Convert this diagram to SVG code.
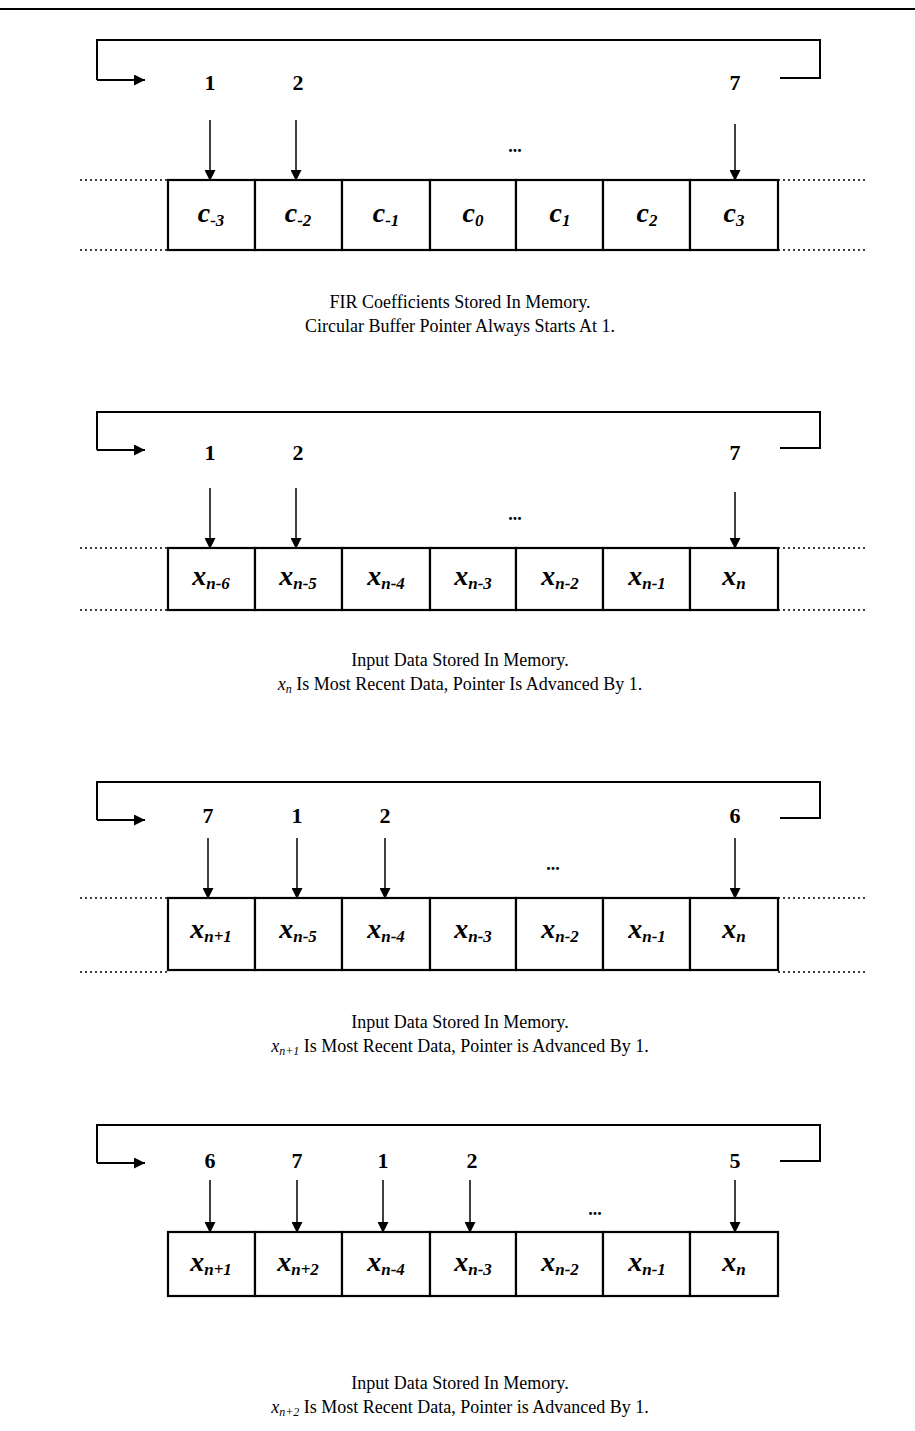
<svg xmlns="http://www.w3.org/2000/svg" width="915" height="1431" viewBox="0 0 915 1431">
<defs>
<marker id="ah" viewBox="0 0 10 10" refX="10" refY="5" markerWidth="11" markerHeight="11" markerUnits="userSpaceOnUse" orient="auto">
<path d="M0,0 L10,5 L0,10 z" fill="#000"/>
</marker>
<style>
.ln{stroke:#000;stroke-width:2;fill:none}
.ptr{stroke:#000;stroke-width:1.5;fill:none}
.dot{stroke:#000;stroke-width:1.5;stroke-dasharray:2 3;fill:none}
.cell{stroke:#000;stroke-width:2.2;fill:#fff}
.num{font-family:"Liberation Serif",serif;font-weight:bold;font-size:22px;text-anchor:middle}
.lbl{font-family:"Liberation Serif",serif;font-weight:bold;font-style:italic;font-size:28px;text-anchor:middle}
.sub{font-size:17px}
.cap{font-family:"Liberation Serif",serif;font-size:18px;text-anchor:middle}
.ell{font-family:"Liberation Serif",serif;font-weight:bold;font-size:18px;text-anchor:middle}
</style>
</defs>
<rect width="915" height="1431" fill="#fff"/>
<line x1="0" y1="9" x2="915" y2="9" stroke="#000" stroke-width="2"/>

<g id="connectors">
<path class="ln" d="M97,80 V40 H820 V78 H780"/>
<line class="ln" x1="97" y1="80" x2="145" y2="80" marker-end="url(#ah)"/>
<line class="ptr" x1="210" y1="120" x2="210" y2="181" marker-end="url(#ah)"/>
<line class="ptr" x1="296" y1="120" x2="296" y2="181" marker-end="url(#ah)"/>
<line class="ptr" x1="735" y1="124" x2="735" y2="181" marker-end="url(#ah)"/>
<path class="ln" d="M97,450 V412 H820 V448 H780"/>
<line class="ln" x1="97" y1="450" x2="145" y2="450" marker-end="url(#ah)"/>
<line class="ptr" x1="210" y1="488" x2="210" y2="549" marker-end="url(#ah)"/>
<line class="ptr" x1="296" y1="488" x2="296" y2="549" marker-end="url(#ah)"/>
<line class="ptr" x1="735" y1="492" x2="735" y2="549" marker-end="url(#ah)"/>
<path class="ln" d="M97,820 V782 H820 V818 H780"/>
<line class="ln" x1="97" y1="820" x2="145" y2="820" marker-end="url(#ah)"/>
<line class="ptr" x1="208" y1="838" x2="208" y2="899" marker-end="url(#ah)"/>
<line class="ptr" x1="297" y1="838" x2="297" y2="899" marker-end="url(#ah)"/>
<line class="ptr" x1="385" y1="838" x2="385" y2="899" marker-end="url(#ah)"/>
<line class="ptr" x1="735" y1="838" x2="735" y2="899" marker-end="url(#ah)"/>
<path class="ln" d="M97,1163 V1125 H820 V1161 H780"/>
<line class="ln" x1="97" y1="1163" x2="145" y2="1163" marker-end="url(#ah)"/>
<line class="ptr" x1="210" y1="1180" x2="210" y2="1233" marker-end="url(#ah)"/>
<line class="ptr" x1="297" y1="1180" x2="297" y2="1233" marker-end="url(#ah)"/>
<line class="ptr" x1="383" y1="1180" x2="383" y2="1233" marker-end="url(#ah)"/>
<line class="ptr" x1="470" y1="1180" x2="470" y2="1233" marker-end="url(#ah)"/>
<line class="ptr" x1="735" y1="1180" x2="735" y2="1233" marker-end="url(#ah)"/>
</g>

<g id="section1">
<text class="num" x="210" y="90">1</text>
<text class="num" x="298" y="90">2</text>
<text class="num" x="735" y="90">7</text>
<text class="ell" x="515" y="152">...</text>
<path class="dot" d="M80,180 H168 M778,180 H868 M80,250 H168 M778,250 H868"/>
<g id="coef-cells">
<rect class="cell" x="168" y="180" width="87" height="70"/>
<rect class="cell" x="255" y="180" width="87" height="70"/>
<rect class="cell" x="342" y="180" width="88" height="70"/>
<rect class="cell" x="430" y="180" width="86" height="70"/>
<rect class="cell" x="516" y="180" width="87" height="70"/>
<rect class="cell" x="603" y="180" width="87" height="70"/>
<rect class="cell" x="690" y="180" width="88" height="70"/>
<text class="lbl" x="211" y="222">c<tspan class="sub" dy="4">-3</tspan></text>
<text class="lbl" x="298" y="222">c<tspan class="sub" dy="4">-2</tspan></text>
<text class="lbl" x="386" y="222">c<tspan class="sub" dy="4">-1</tspan></text>
<text class="lbl" x="473" y="222">c<tspan class="sub" dy="4">0</tspan></text>
<text class="lbl" x="560" y="222">c<tspan class="sub" dy="4">1</tspan></text>
<text class="lbl" x="647" y="222">c<tspan class="sub" dy="4">2</tspan></text>
<text class="lbl" x="734" y="222">c<tspan class="sub" dy="4">3</tspan></text>
</g>
<text class="cap" x="460" y="308">FIR Coefficients Stored In Memory.</text>
<text class="cap" x="460" y="332">Circular Buffer Pointer Always Starts At 1.</text>
</g>

<g id="section2">
<text class="num" x="210" y="460">1</text>
<text class="num" x="298" y="460">2</text>
<text class="num" x="735" y="460">7</text>
<text class="ell" x="515" y="520">...</text>
<path class="dot" d="M80,548 H168 M778,548 H868 M80,610 H168 M778,610 H868"/>
<rect class="cell" x="168" y="548" width="87" height="62"/>
<rect class="cell" x="255" y="548" width="87" height="62"/>
<rect class="cell" x="342" y="548" width="88" height="62"/>
<rect class="cell" x="430" y="548" width="86" height="62"/>
<rect class="cell" x="516" y="548" width="87" height="62"/>
<rect class="cell" x="603" y="548" width="87" height="62"/>
<rect class="cell" x="690" y="548" width="88" height="62"/>
<text class="lbl" x="211" y="585">x<tspan class="sub" dy="4">n-6</tspan></text>
<text class="lbl" x="298" y="585">x<tspan class="sub" dy="4">n-5</tspan></text>
<text class="lbl" x="386" y="585">x<tspan class="sub" dy="4">n-4</tspan></text>
<text class="lbl" x="473" y="585">x<tspan class="sub" dy="4">n-3</tspan></text>
<text class="lbl" x="560" y="585">x<tspan class="sub" dy="4">n-2</tspan></text>
<text class="lbl" x="647" y="585">x<tspan class="sub" dy="4">n-1</tspan></text>
<text class="lbl" x="734" y="585">x<tspan class="sub" dy="4">n</tspan></text>
<text class="cap" x="460" y="666">Input Data Stored In Memory.</text>
<text class="cap" x="460" y="690"><tspan font-style="italic">x</tspan><tspan font-style="italic" font-size="12" dy="3">n</tspan><tspan dy="-3"> Is Most Recent Data, Pointer Is Advanced By 1.</tspan></text>
</g>

<g id="section3">
<text class="num" x="208" y="823">7</text>
<text class="num" x="297" y="823">1</text>
<text class="num" x="385" y="823">2</text>
<text class="num" x="735" y="823">6</text>
<text class="ell" x="553" y="870">...</text>
<path class="dot" d="M80,898 H168 M778,898 H868 M80,972 H168 M778,972 H868"/>
<rect class="cell" x="168" y="898" width="87" height="72"/>
<rect class="cell" x="255" y="898" width="87" height="72"/>
<rect class="cell" x="342" y="898" width="88" height="72"/>
<rect class="cell" x="430" y="898" width="86" height="72"/>
<rect class="cell" x="516" y="898" width="87" height="72"/>
<rect class="cell" x="603" y="898" width="87" height="72"/>
<rect class="cell" x="690" y="898" width="88" height="72"/>
<text class="lbl" x="211" y="938">x<tspan class="sub" dy="4">n+1</tspan></text>
<text class="lbl" x="298" y="938">x<tspan class="sub" dy="4">n-5</tspan></text>
<text class="lbl" x="386" y="938">x<tspan class="sub" dy="4">n-4</tspan></text>
<text class="lbl" x="473" y="938">x<tspan class="sub" dy="4">n-3</tspan></text>
<text class="lbl" x="560" y="938">x<tspan class="sub" dy="4">n-2</tspan></text>
<text class="lbl" x="647" y="938">x<tspan class="sub" dy="4">n-1</tspan></text>
<text class="lbl" x="734" y="938">x<tspan class="sub" dy="4">n</tspan></text>
<text class="cap" x="460" y="1028">Input Data Stored In Memory.</text>
<text class="cap" x="460" y="1052"><tspan font-style="italic">x</tspan><tspan font-style="italic" font-size="12" dy="3">n+1</tspan><tspan dy="-3"> Is Most Recent Data, Pointer is Advanced By 1.</tspan></text>
</g>

<g id="section4">
<text class="num" x="210" y="1168">6</text>
<text class="num" x="297" y="1168">7</text>
<text class="num" x="383" y="1168">1</text>
<text class="num" x="472" y="1168">2</text>
<text class="num" x="735" y="1168">5</text>
<text class="ell" x="595" y="1215">...</text>
<rect class="cell" x="168" y="1232" width="87" height="64"/>
<rect class="cell" x="255" y="1232" width="87" height="64"/>
<rect class="cell" x="342" y="1232" width="88" height="64"/>
<rect class="cell" x="430" y="1232" width="86" height="64"/>
<rect class="cell" x="516" y="1232" width="87" height="64"/>
<rect class="cell" x="603" y="1232" width="87" height="64"/>
<rect class="cell" x="690" y="1232" width="88" height="64"/>
<text class="lbl" x="211" y="1271">x<tspan class="sub" dy="4">n+1</tspan></text>
<text class="lbl" x="298" y="1271">x<tspan class="sub" dy="4">n+2</tspan></text>
<text class="lbl" x="386" y="1271">x<tspan class="sub" dy="4">n-4</tspan></text>
<text class="lbl" x="473" y="1271">x<tspan class="sub" dy="4">n-3</tspan></text>
<text class="lbl" x="560" y="1271">x<tspan class="sub" dy="4">n-2</tspan></text>
<text class="lbl" x="647" y="1271">x<tspan class="sub" dy="4">n-1</tspan></text>
<text class="lbl" x="734" y="1271">x<tspan class="sub" dy="4">n</tspan></text>
<text class="cap" x="460" y="1389">Input Data Stored In Memory.</text>
<text class="cap" x="460" y="1413"><tspan font-style="italic">x</tspan><tspan font-style="italic" font-size="12" dy="3">n+2</tspan><tspan dy="-3"> Is Most Recent Data, Pointer is Advanced By 1.</tspan></text>
</g>
</svg>
